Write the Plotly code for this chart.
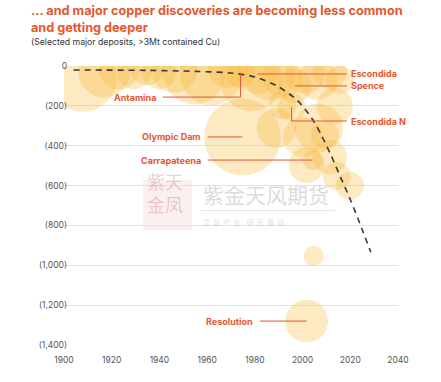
import plotly.graph_objects as go

# ---------------- data ----------------
deposit_names = ["", "", "", "", "", "", "", "", "", "", "Antamina", "", "Escondida", "", "",
                 "Spence", "", "", "", "",
                 "Escondida N", "", "", "", "Olympic Dam", "", "", "", "", "Carrapateena",
                 "", "", "", "", "Resolution"]
discovery_year = [1908.0, 1916.8, 1923.1, 1929.4, 1934.9, 1939.9, 1946.2, 1954.6, 1961.8, 1968.5,
                  1974.0, 1978.6, 1981.1, 1986.2, 1991.6, 1996.7, 2000.9, 2006.3, 2011.4, 2015.6,
                  1995.4, 1991.6, 2013.5, 1989.1, 1974.8, 2000.0, 2006.8, 2009.3, 2001.7, 2004.2,
                  2011.4, 2014.3, 2019.8, 2004.7, 2001.7]
depth_m = [60, 30, 20, 30, 10, 30, 20, 35, 40, 10,
           40, 70, 40, 45, 60, 100, 40, 70, 30, 70,
           206, 196, 201, 311, 356, 356, 311, 346, 497, 472,
           457, 552, 602, 953, 1280]
contained_cu_mt = [35, 20, 12, 9, 9, 9, 16, 30, 30, 12,
                   6, 30, 12, 20, 12, 9, 12, 12, 9, 6,
                   6, 6, 10, 12, 45, 12, 18, 6, 10, 3,
                   9, 6, 6, 3, 14]

trend_year = [1904, 1935, 1955, 1970, 1980, 1990, 1998, 2004, 2008, 2012, 2016, 2020, 2024, 2028.6]
trend_depth = [20, 22, 27, 35, 55, 105, 175, 265, 350, 450, 560, 670, 790, 935]

x_tick_vals = [1900, 1920, 1940, 1960, 1980, 2000, 2020, 2040]
y_tick_depths = [0, 200, 400, 600, 800, 1000, 1200, 1400]
y_tick_labels = ["0", "(200)", "(400)", "(600)", "(800)", "(1,000)", "(1,200)", "(1,400)"]

# label placement: name -> (side, label depth)
label_cfg = {
    "Escondida": ("right", 40),
    "Spence": ("right", 100),
    "Escondida N": ("right", 276),
    "Antamina": ("left", 156),
    "Olympic Dam": ("left", 356),
    "Carrapateena": ("left", 472),
    "Resolution": ("left", 1280),
}
left_label_end = {"Antamina": 1939.5, "Olympic Dam": 1958.3, "Carrapateena": 1958.3, "Resolution": 1980.2}

ORANGE = "#E5572C"
BUBBLE = "rgba(250,183,58,0.44)"
FONT = "Inter"

fig = go.Figure()

fig.add_trace(go.Scatter(
    x=discovery_year, y=[-d for d in depth_m], mode="markers",
    marker=dict(size=contained_cu_mt, sizemode="area", sizeref=0.0153, color=BUBBLE,
                line=dict(width=0)),
    hoverinfo="skip", showlegend=False, cliponaxis=True))

fig.add_trace(go.Scatter(
    x=trend_year, y=[-d for d in trend_depth], mode="lines",
    line=dict(color="#3a3a3a", width=1.6, dash="6px,5px", shape="spline", smoothing=0.8),
    hoverinfo="skip", showlegend=False))

shapes = []
annotations = []
for name, (side, ldep) in label_cfg.items():
    i = deposit_names.index(name)
    bx, by = discovery_year[i], -depth_m[i]
    ly = -ldep
    if side == "right":
        x_end = 2018.6
        if ly != by:
            shapes.append(dict(type="line", x0=bx, y0=by, x1=bx, y1=ly, line=dict(color=ORANGE, width=1)))
        shapes.append(dict(type="line", x0=bx, y0=ly, x1=x_end, y1=ly, line=dict(color=ORANGE, width=1)))
        annotations.append(dict(x=2019.6, y=ly, text="<b>%s</b>" % name, showarrow=False,
                                xanchor="left", yanchor="middle", font=dict(color=ORANGE, size=9, family=FONT)))
    else:
        tx = left_label_end[name]
        x_start = tx + 1.9
        shapes.append(dict(type="line", x0=x_start, y0=ly, x1=bx, y1=ly, line=dict(color=ORANGE, width=1)))
        if ly != by:
            shapes.append(dict(type="line", x0=bx, y0=ly, x1=bx, y1=by, line=dict(color=ORANGE, width=1)))
        annotations.append(dict(x=tx, y=ly, text="<b>%s</b>" % name, showarrow=False,
                                xanchor="right", yanchor="middle", font=dict(color=ORANGE, size=9, family=FONT)))

# title & subtitle
annotations.append(dict(xref="paper", yref="paper", x=-0.105, y=1.232, xanchor="left", yanchor="top",
                        align="left", showarrow=False,
                        text="<b>... and major copper discoveries are becoming less common<br>and getting deeper</b>",
                        font=dict(color=ORANGE, size=12.7, family=FONT)))
annotations.append(dict(xref="paper", yref="paper", x=-0.105, y=1.085, xanchor="left", yanchor="middle",
                        align="left", showarrow=False,
                        text="(Selected major deposits, >3Mt contained Cu)",
                        font=dict(color="#333333", size=8.7, family=FONT)))

# watermark
annotations.append(dict(xref="paper", yref="paper", x=0.41, y=0.54, xanchor="left", yanchor="middle",
                        showarrow=False, text="紫金天风期货",
                        font=dict(color="rgba(150,150,150,0.35)", size=21, family="Noto Sans CJK SC")))
annotations.append(dict(xref="paper", yref="paper", x=0.41, y=0.44, xanchor="left", yanchor="middle",
                        showarrow=False, text="立  足  产  业    研  究  驱  动",
                        font=dict(color="rgba(150,150,150,0.35)", size=7, family="Noto Sans CJK SC")))
annotations.append(dict(xref="paper", yref="paper", x=0.302, y=0.545, xanchor="center", yanchor="middle",
                        showarrow=False, text="紫天<br>金凤",
                        font=dict(color="rgba(200,90,90,0.30)", size=18, family="Noto Sans CJK SC")))
shapes.append(dict(type="rect", xref="paper", yref="paper", x0=0.237, x1=0.383, y0=0.41, y1=0.59,
                   fillcolor="rgba(220,130,130,0.12)", line=dict(width=0), layer="below"))
shapes.append(dict(type="line", xref="paper", yref="paper", x0=0.41, x1=0.81, y0=0.482, y1=0.482,
                   line=dict(color="rgba(180,180,180,0.35)", width=1)))

fig.update_layout(
    width=441, height=382,
    margin=dict(l=64, r=43, t=66, b=37, autoexpand=False),
    paper_bgcolor="white", plot_bgcolor="white",
    font=dict(family=FONT, color="#555555", size=9),
    xaxis=dict(range=[1900, 2040], tickvals=x_tick_vals, showgrid=False, zeroline=False,
               showline=False, ticks="", ticklen=0, ticklabelstandoff=8, automargin=False,
               tickfont=dict(size=8.5, color="#555555")),
    yaxis=dict(range=[-1400, 0], tickvals=[-v for v in y_tick_depths], ticktext=y_tick_labels,
               showgrid=True, gridcolor="#e2e2e2", gridwidth=1, zeroline=False, showline=False,
               ticks="", ticklen=0, ticklabelstandoff=-4, automargin=False,
               tickfont=dict(size=8.5, color="#555555")),
    shapes=shapes, annotations=annotations, showlegend=False,
)

fig.write_html("out.html", config={"displayModeBar": False},
               post_script="document.body.style.margin='0';")
